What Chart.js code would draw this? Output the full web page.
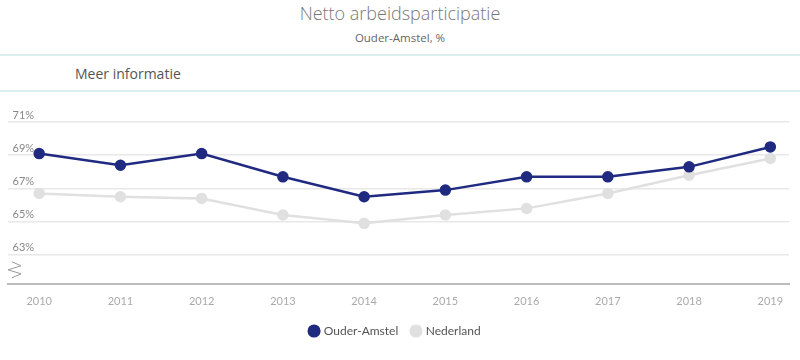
<!DOCTYPE html>
<html>
<head>
<meta charset="utf-8">
<script src="https://cdn.jsdelivr.net/npm/chart.js@4"></script>
<style>
  body { margin: 0; width: 800px; height: 360px; background: #fff; font-family: "Open Sans", sans-serif; overflow: hidden; }
  .title { position: absolute; top: 1px; left: 0; width: 800px; text-align: center; font-size: 18px; font-weight: 300; color: #777; }
  .subtitle { position: absolute; top: 30px; left: 0; width: 800px; text-align: center; font-size: 11.5px; color: #666; }
  .line { position: absolute; left: 0; width: 800px; height: 2px; background: #dcefef; }
  .info { position: absolute; top: 64px; left: 75px; font-size: 14px; color: #555; }
  #wrap { position: absolute; top: 95px; left: 0; width: 800px; height: 261px; }
</style>
</head>
<body>
<div class="title">Netto arbeidsparticipatie</div>
<div class="subtitle">Ouder-Amstel, %</div>
<div class="line" style="top:54px"></div>
<div class="info">Meer informatie</div>
<div class="line" style="top:90px"></div>
<div id="wrap"><canvas id="chart"></canvas></div>
<script>
// Data
const years = [2010, 2011, 2012, 2013, 2014, 2015, 2016, 2017, 2018, 2019];
const ouderAmstel = [69.1, 68.4, 69.1, 67.7, 66.5, 66.9, 67.7, 67.7, 68.3, 69.5];
const nederland = [66.7, 66.5, 66.4, 65.4, 64.9, 65.4, 65.8, 66.7, 67.8, 68.8];
const yTicks = [63, 65, 67, 69, 71];

function toPoints(values) {
    return values.map(function(v, i) { return { x: years[i], y: v }; });
}

// small zigzag axis-break mark near the bottom of the y axis
const breakMark = {
    id: 'breakMark',
    afterDraw: function(chart) {
        const c = chart.ctx;
        const y = chart.chartArea.bottom;
        c.save();
        c.strokeStyle = '#999';
        c.lineWidth = 1;
        c.beginPath();
        c.moveTo(12, y - 22);
        c.lineTo(21, y - 18);
        c.lineTo(8, y - 14);
        c.lineTo(21, y - 10);
        c.lineTo(12, y - 6);
        c.stroke();
        c.restore();
    }
};

const ctx = document.getElementById('chart');
new Chart(ctx.getContext('2d'), {
    type: 'line',
    data: {
        datasets: [{
            label: 'Ouder-Amstel',
            data: toPoints(ouderAmstel),
            borderColor: '#1f2a80',
            backgroundColor: '#1f2a80',
            borderWidth: 2.5,
            pointRadius: 4.5,
            pointHoverRadius: 5
        }, {
            label: 'Nederland',
            data: toPoints(nederland),
            borderColor: '#e0e0e0',
            backgroundColor: '#e0e0e0',
            borderWidth: 2.5,
            pointRadius: 4.5,
            pointHoverRadius: 5
        }]
    },
    options: {
        responsive: true,
        maintainAspectRatio: false,
        animation: false,
        layout: { padding: { left: 2, right: 11, top: 27, bottom: 9 } },
        scales: {
            x: {
                type: 'linear',
                min: 2009.61,
                max: 2019.23,
                grid: { display: false },
                border: { display: true, color: '#bbb', width: 2 },
                afterBuildTicks: function(axis) {
                    axis.ticks = years.map(function(v) { return { value: v }; });
                },
                ticks: {
                    color: '#aaa',
                    font: { family: 'Lato', size: 11 },
                    padding: 3,
                    maxRotation: 0,
                    callback: function(v) { return String(v); }
                }
            },
            y: {
                min: 61.26,
                max: 71,
                grid: { color: '#e8e8e8', lineWidth: 1.5, drawTicks: false },
                border: { display: false },
                afterFit: function(axis) { axis.width = 0; },
                afterBuildTicks: function(axis) {
                    axis.ticks = yTicks.map(function(v) { return { value: v }; });
                },
                ticks: {
                    mirror: true,
                    padding: 5,
                    labelOffset: -7,
                    color: '#888',
                    font: { family: 'Lato', size: 11 },
                    callback: function(v) { return v + '%'; }
                }
            }
        },
        plugins: {
            legend: {
                position: 'bottom',
                labels: {
                    usePointStyle: true,
                    pointStyle: 'circle',
                    boxWidth: 7.5,
                    boxHeight: 7.5,
                    padding: 14,
                    color: '#555',
                    font: { family: 'Lato', size: 12 }
                }
            },
            tooltip: { enabled: true }
        }
    },
    plugins: [breakMark]
});
</script>
</body>
</html>
